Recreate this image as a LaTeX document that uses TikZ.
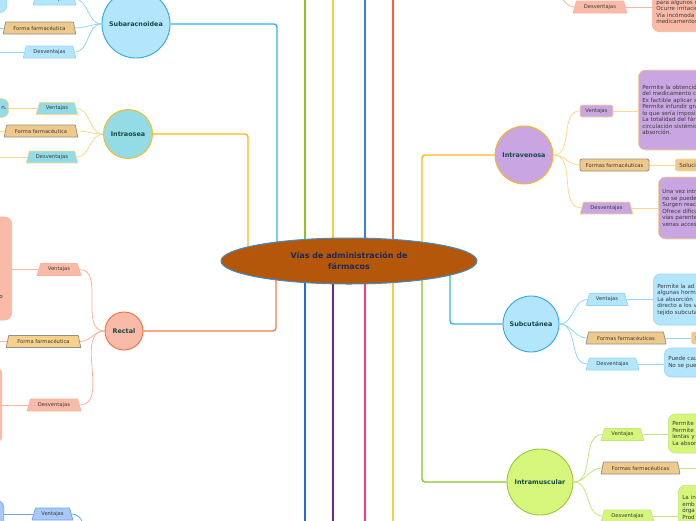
\documentclass[tikz,border=0pt]{standalone}
\usepackage{fontspec}
\setmainfont{DejaVu Sans}
\usetikzlibrary{shapes.geometric,backgrounds}
\definecolor{RootFill}{HTML}{B5570A}
\definecolor{RootRim}{HTML}{3B8ED0}
\definecolor{RootInk}{HTML}{1C2A57}
\definecolor{HubInk}{HTML}{134A46}
\definecolor{TabInk}{HTML}{3A3A3A}
\definecolor{SkyLine}{HTML}{36B4EE}
\definecolor{SkyFill}{HTML}{B3E5FC}
\definecolor{SkyRim}{HTML}{2FA8E5}
\definecolor{SkyTwig}{HTML}{93D7F7}
\definecolor{AmberLine}{HTML}{FDB813}
\definecolor{AmberTwig}{HTML}{FFD987}
\definecolor{TealFill}{HTML}{93DCE6}
\definecolor{CoralLine}{HTML}{F77A4F}
\definecolor{CoralFill}{HTML}{F9BBA7}
\definecolor{CoralRim}{HTML}{F26D3D}
\definecolor{CoralTwig}{HTML}{F9B49E}
\definecolor{LavFill}{HTML}{C9A6E1}
\definecolor{LimeLine}{HTML}{8DC21F}
\definecolor{LimeFill}{HTML}{D5F67B}
\definecolor{LimeRim}{HTML}{9AC73A}
\definecolor{LimeTwig}{HTML}{C3E67E}
\definecolor{TanFill}{HTML}{EFC98A}
\definecolor{GoldFill}{HTML}{F5D189}
\definecolor{TanRim}{HTML}{8E8E8E}
\definecolor{TanSoft}{HTML}{F3D9A8}
\definecolor{BlueFill}{HTML}{A8C8F6}
\definecolor{BlueRim}{HTML}{6FA5EF}
\definecolor{SunLine}{HTML}{F0D43A}
\definecolor{SeaLine}{HTML}{3A7FD5}
\definecolor{FlameLine}{HTML}{F4643A}
\definecolor{DeepBlue}{HTML}{1A6FD8}
\definecolor{Plum}{HTML}{6B2C80}
\definecolor{Rose}{HTML}{FF3B7F}

\begin{document}
\begin{tikzpicture}[x=1pt,y=-1pt,line cap=round,line join=round,
  hub/.style={circle,draw,line width=0.9pt,inner sep=0pt,text=HubInk,font=\bfseries\fontsize{6.4}{7}\selectfont},
  tab/.style={trapezium,trapezium left angle=66,trapezium right angle=66,trapezium stretches=true,draw,line width=0.7pt,minimum height=12pt,inner sep=0pt,text=TabInk,font=\fontsize{5.2}{6}\selectfont},
  pill/.style={rectangle,rounded corners=2pt,draw,line width=0.7pt,minimum height=12pt,inner sep=0pt,text=TabInk,font=\fontsize{5.2}{6}\selectfont},
  leaf/.style={rectangle,rounded corners=7pt,draw,line width=0.6pt,inner xsep=4pt,inner ysep=0pt,align=left,text=TabInk,font=\fontsize{5.6}{6.5}\selectfont},
  trunk/.style={line width=1.4pt},
  twig/.style={line width=0.8pt}]
  \useasboundingbox (0,0) rectangle (696,520);
  \clip (0,0) rectangle (696,520);

  \node[ellipse,draw=RootRim,fill=RootFill,line width=1pt,minimum width=256pt,minimum height=46pt,inner sep=0pt,align=center,text=RootInk,font=\bfseries\fontsize{8}{10.5}\selectfont] (root) at (349,261) {Vías de administración de\\fármacos};

  \node[hub,fill=SkyFill,draw=SkyRim,minimum size=68pt] (suba) at (136,24) {Subaracnoidea};
  \node[hub,fill=TealFill,draw=AmberLine,minimum size=49pt] (osea) at (128,134) {Intraosea};
  \node[hub,fill=CoralFill,draw=CoralRim,minimum size=38pt] (rect) at (124,331) {Rectal};
  \node[hub,fill=LavFill,draw=AmberLine,minimum size=58pt] (vena) at (524,155) {Intravenosa};
  \node[hub,fill=SkyFill,draw=SkyRim,minimum size=56pt] (subc) at (531,324) {Subcutánea};
  \node[hub,fill=LimeFill,draw=LimeRim,minimum size=66pt] (musc) at (540,482) {Intramuscular};

  \node[tab,fill=SkyFill,draw=SkyTwig,minimum width=43pt] (subaV) at (54.5,-1) {Ventajas};
  \node[tab,fill=TanFill,draw=TanRim,minimum width=73pt] (subaF) at (39.5,28) {Forma farmacéutica};
  \node[tab,fill=SkyFill,draw=SkyTwig,minimum width=53pt] (subaD) at (49.5,52) {Desventajas};
  \node[leaf,fill=SkyFill,draw=SkyTwig,minimum width=40pt,minimum height=30pt,anchor=south east] (subaVn) at (7,13) {};

  \node[tab,fill=TealFill,draw=AmberTwig,minimum width=42pt] (oseaV) at (57,108.5) {Ventajas};
  \node[tab,fill=TanFill,draw=TanRim,minimum width=74pt] (oseaF) at (41,131) {Forma farmacéutica};
  \node[tab,fill=TealFill,draw=AmberTwig,minimum width=52pt] (oseaD) at (52,157) {Desventajas};
  \node[leaf,fill=TealFill,draw=AmberTwig,anchor=east,text width=40pt,align=right,inner xsep=2pt,minimum height=19pt] (oseaVn) at (9,108) {n.};

  \node[tab,fill=CoralFill,draw=CoralTwig,minimum width=44pt] (rectV) at (59,269.5) {Ventajas};
  \node[tab,fill=GoldFill,draw=TanRim,minimum width=75pt] (rectF) at (43.5,341.5) {Forma farmacéutica};
  \node[tab,fill=CoralFill,draw=CoralTwig,minimum width=54pt] (rectD) at (54,405) {Desventajas};
  \node[leaf,fill=CoralFill,draw=CoralTwig,anchor=east,text width=40pt,align=right,inner xsep=9pt,minimum height=103pt] (rectVn) at (12,268.5) {\raisebox{-29.5pt}[0pt][0pt]{o}};
  \node[leaf,fill=CoralFill,draw=CoralTwig,anchor=east,minimum width=40pt,minimum height=76pt] (rectDn) at (2,405) {};

  \node[tab,fill=BlueFill,draw=BlueRim,minimum width=41pt] (lowV) at (52.5,514) {Ventajas};
  \node[leaf,fill=BlueFill,draw=BlueRim,anchor=north east,minimum width=40pt,minimum height=40pt] (lowVn) at (4,500) {};

  \node[tab,fill=CoralFill,draw=CoralTwig,minimum width=54pt] (topD) at (600,7) {Desventajas};
  \node[leaf,fill=CoralFill,draw=CoralTwig,anchor=south west,text width=80pt,inner ysep=8pt] (topDn) at (652,32) {para algunos r\\Ocurre irritació\\Vía incómoda\\medicamentos};

  \node[pill,fill=LavFill,draw=AmberTwig,minimum width=33pt] (venaV) at (596.5,111) {Ventajas};
  \node[pill,fill=TanFill,draw=TanRim,line width=0.9pt,minimum width=69pt] (venaF) at (614.5,165) {Formas farmacéuticas};
  \node[tab,fill=LavFill,draw=AmberTwig,minimum width=53pt] (venaD) at (606.5,208) {Desventajas};
  \node[leaf,fill=LavFill,draw=AmberTwig,anchor=west,text width=80pt,minimum height=80pt] (venaVn) at (638,110) {Permite la obtenció\\del medicamento c\\Es factible aplicar s\\Permite infundir gra\\lo que sería imposib\\La totalidad del fárm\\circulación sistémic\\absorción.};
  \node[leaf,rounded corners=2pt,fill=TanFill,draw=TanSoft,anchor=west,text width=40pt,minimum height=12pt] (venaFn) at (675,165) {Soluci};
  \node[leaf,fill=LavFill,draw=AmberTwig,anchor=west,text width=80pt,minimum height=62pt] (venaDn) at (658,208) {Una vez intr\\no se puede\\Surgen reac\\Ofrece dificu\\vías parente\\venas acces};

  \node[tab,fill=SkyFill,draw=SkyTwig,minimum width=42pt] (subcV) at (607,299.5) {Ventajas};
  \node[tab,fill=TanFill,draw=TanRim,minimum width=80pt] (subcF) at (626,338) {Formas farmacéuticas};
  \node[tab,fill=SkyFill,draw=SkyTwig,minimum width=53pt] (subcD) at (612.5,364) {Desventajas};
  \node[leaf,fill=SkyFill,draw=SkyTwig,anchor=west,text width=80pt,minimum height=51pt] (subcVn) at (653,299.5) {Permite la ad\\algunas horm\\La absorción\\directo a los v\\tejido subcuta};
  \node[leaf,rounded corners=2pt,fill=TanFill,draw=TanSoft,anchor=west,text width=40pt,minimum height=12pt] (subcFn) at (691,338) {S};
  \node[leaf,fill=SkyFill,draw=SkyTwig,anchor=west,text width=80pt,minimum height=29pt] (subcDn) at (664,362.5) {Puede cau\\No se pue};

  \node[tab,fill=LimeFill,draw=LimeTwig,minimum width=43pt] (muscV) at (622.5,434.5) {Ventajas};
  \node[tab,fill=TanFill,draw=TanRim,minimum width=79pt] (muscF) at (640.5,468) {Formas farmacéuticas};
  \node[tab,fill=LimeFill,draw=LimeTwig,minimum width=53pt] (muscD) at (627.5,516) {Desventajas};
  \node[leaf,fill=LimeFill,draw=LimeTwig,anchor=west,text width=80pt,minimum height=39pt] (muscVn) at (668,433.5) {Permite\\Permite\\lentas y\\La absor};
  \node[leaf,fill=LimeFill,draw=LimeTwig,anchor=north west,text width=80pt,inner ysep=10pt] (muscDn) at (678,485) {La in\\emb\\órga\\Prod};

  \coordinate (offL) at (-20,0);
  \coordinate (offR) at (720,0);
  \coordinate (topHub) at (545,-22);
  \coordinate (lowHub) at (100,560);

  \begin{scope}[on background layer]
    \clip (0,0) rectangle (696,520);
    \foreach \x/\c in {305/LimeLine,333/SunLine,365/SeaLine,393/FlameLine}{
      \coordinate (up\x) at (\x,-10);
      \draw[trunk,\c] (up\x) -- (up\x |- root);
    }
    \foreach \x/\c in {305/DeepBlue,333/Plum,365/Rose,393/SunLine}{
      \coordinate (dn\x) at (\x,530);
      \draw[trunk,\c] (dn\x) -- (dn\x |- root);
    }
    \draw[trunk,SkyLine,rounded corners=3pt] (suba.east) -| ([xshift=-72pt]root.center);
    \draw[trunk,AmberLine,rounded corners=3pt] (osea.east) -| ([xshift=-101pt]root.center);
    \draw[trunk,CoralLine,rounded corners=3pt] (rect.east) -| ([xshift=-73pt]root.center);
    \draw[trunk,AmberLine,rounded corners=3pt] (vena.west) -| ([xshift=73pt]root.center);
    \draw[trunk,SkyLine,rounded corners=3pt] (subc.west) -| ([xshift=101pt]root.center);
    \draw[trunk,LimeLine,rounded corners=3pt] (musc.west) -| ([xshift=73pt]root.center);

    \foreach \b in {subaV,subaF,subaD} \draw[twig,SkyTwig] (suba.west) to[out=180,in=0] (\b.east);
    \foreach \b in {oseaV,oseaF,oseaD} \draw[twig,AmberTwig] (osea.west) to[out=180,in=0] (\b.east);
    \foreach \b in {rectV,rectF,rectD} \draw[twig,CoralTwig] (rect.west) to[out=180,in=0] (\b.east);
    \foreach \b in {venaV,venaF,venaD} \draw[twig,AmberTwig] (vena.east) to[out=0,in=180] (\b.west);
    \foreach \b in {subcV,subcF,subcD} \draw[twig,SkyTwig] (subc.east) to[out=0,in=180] (\b.west);
    \foreach \b in {muscV,muscF,muscD} \draw[twig,LimeTwig] (musc.east) to[out=0,in=180] (\b.west);
    \draw[twig,CoralTwig] (topHub) to[out=0,in=180] (topD.west);
    \draw[twig,BlueRim] (lowV.east) to[out=0,in=180] (lowHub);

    \draw[twig,SkyTwig] (subaV.west) -- (subaV.west -| subaVn.east);
    \draw[twig,SkyTwig] (subaF.west) -- (subaF.west -| offL);
    \draw[twig,SkyTwig] (subaD.west) -- (subaD.west -| offL);
    \draw[twig,AmberTwig] (oseaV.west) -- (oseaV.west -| oseaVn.east);
    \draw[twig,AmberTwig] (oseaF.west) -- (oseaF.west -| offL);
    \draw[twig,AmberTwig] (oseaD.west) -- (oseaD.west -| offL);
    \draw[twig,CoralTwig] (rectV.west) -- (rectV.west -| rectVn.east);
    \draw[twig,CoralTwig] (rectF.west) -- (rectF.west -| offL);
    \draw[twig,CoralTwig] (rectD.west) -- (rectD.west -| rectDn.east);
    \draw[twig,BlueRim] (lowV.west) -- (lowV.west -| lowVn.east);
    \draw[twig,CoralTwig] (topD.east) -- (topD.east -| topDn.west);
    \draw[twig,AmberTwig] (venaV.east) -- (venaV.east -| venaVn.west);
    \draw[twig,AmberTwig] (venaF.east) -- (venaF.east -| venaFn.west);
    \draw[twig,AmberTwig] (venaD.east) -- (venaD.east -| venaDn.west);
    \draw[twig,SkyTwig] (subcV.east) -- (subcV.east -| subcVn.west);
    \draw[twig,SkyTwig] (subcF.east) -- (subcF.east -| subcFn.west);
    \draw[twig,SkyTwig] (subcD.east) -- (subcD.east -| subcDn.west);
    \draw[twig,LimeTwig] (muscV.east) -- (muscV.east -| muscVn.west);
    \draw[twig,LimeTwig] (muscF.east) -- (muscF.east -| offR);
    \draw[twig,LimeTwig] (muscD.east) -- (muscD.east -| muscDn.west);
  \end{scope}
\end{tikzpicture}
\end{document}
